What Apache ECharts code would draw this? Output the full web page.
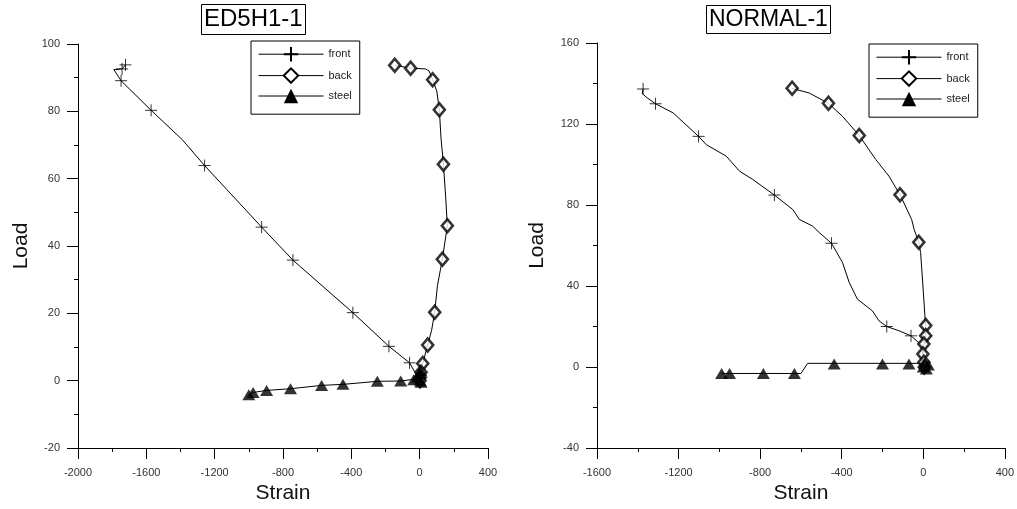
<!DOCTYPE html>
<html>
<head>
<meta charset="utf-8">
<script src="https://cdn.jsdelivr.net/npm/echarts@6/dist/echarts.min.js"></script>
<style>
html,body{margin:0;padding:0;background:#fff;}
#chart{width:1017px;height:509px;}
</style>
</head>
<body>
<div id="chart"></div>
<script>
// ---- Data (Strain, Load) ----
const titles = ['ED5H1-1', 'NORMAL-1'];
const seriesNames = ['front', 'back', 'steel'];

// Left panel: ED5H1-1
const leftFrontLine = [[0,0],[-59,5.3],[-180,10.2],[-391,20.2],[-742,35.8],[-925,45.6],[-1259,63.9],[-1390,71.6],[-1572,80.3],[-1748,89.1],[-1790,92.4],[-1742,92.6],[-1722,93.8]];
const leftFrontMarks = [[-59,5.3],[-180,10.2],[-391,20.2],[-742,35.8],[-925,45.6],[-1259,63.9],[-1572,80.3],[-1748,89.1],[-1742,92.6],[-1722,93.8]];
const leftBackLine = [[0,0],[3,1.5],[8,3],[18,5.1],[47,10.6],[70,15],[88,20.3],[104,28.2],[133,36.1],[162,46],[152,54.8],[139,64.3],[125,72],[115,80.5],[100,86],[76,89.4],[55,92],[35,92.6],[-53,92.8],[-146,93.7]];
const leftBackMarks = [[-146,93.7],[-53,92.8],[76,89.4],[115,80.5],[139,64.3],[162,46],[133,36.1],[88,20.3],[47,10.6],[18,5.1],[8,2.5],[4,1],[2,0]];
const leftSteelLine = [[-1000,-4.2],[-975,-3.5],[-896,-2.9],[-756,-2.4],[-574,-1.4],[-449,-1.1],[-248,-0.2],[-111,-0.1],[-35,0.4],[0,0.8],[5,1.8],[8,3]];
const leftSteelMarks = [[-1000,-4.2],[-975,-3.5],[-896,-2.9],[-756,-2.4],[-574,-1.4],[-449,-1.1],[-248,-0.2],[-111,-0.1],[-35,0.3],[-12,1],[2,2],[6,3],[4,0],[8,-0.5]];

// Right panel: NORMAL-1
const rightFrontLine = [[0,2],[-5,10.5],[-60,15.4],[-119,17.9],[-179,20],[-217,22.8],[-249,27.7],[-323,33.5],[-363,41.7],[-396,51.6],[-450,61.1],[-510,66.4],[-543,69.6],[-608,72.9],[-640,77.8],[-730,84.9],[-836,92.6],[-901,96.7],[-966,104.1],[-1064,109.8],[-1102,113.9],[-1227,125.5],[-1313,130],[-1355,133],[-1378,135],[-1374,137.3]];
const rightFrontMarks = [[-1374,137.3],[-1313,130],[-1102,113.9],[-730,84.9],[-450,61.1],[-179,20],[-60,15.4]];
const rightBackLine = [[5,0],[3,2.3],[-2,6.4],[3,11.3],[12,15.4],[12,20.5],[8,25.3],[-1.5,40],[-13,56.5],[-22,61.6],[-45,68],[-57,72.9],[-114,85.1],[-168,94.2],[-233,102.5],[-314,114.3],[-396,123.8],[-465,130.2],[-559,135.3],[-643,137.6]];
const rightBackMarks = [[-643,137.6],[-465,130.2],[-314,114.3],[-114,85.1],[-22,61.6],[12,20.5],[12,15.4],[3,11.3],[-2,6.4],[3,2.3],[5,0]];
const rightSteelLine = [[-989,-3.2],[-950,-3.2],[-784,-3.2],[-632,-3.2],[-600,-3.2],[-567,1.8],[-437,1.8],[-200,1.8],[-70,1.8],[0,1.8],[10,0],[20,1]];
const rightSteelMarks = [[-989,-3.2],[-950,-3.2],[-784,-3.2],[-632,-3.2],[-437,1.5],[-200,1.5],[-70,1.5],[0,0],[8,2],[25,1],[15,-1]];

// Axis ranges
const leftX = {min:-2000, max:400, interval:400};
const leftY = {min:-20, max:100, interval:20};
const rightX = {min:-1600, max:400, interval:400};
const rightY = {min:-40, max:160, interval:40};

const FONT = "'Liberation Sans', Arial, Helvetica, sans-serif";
const crossPath = 'path://M5,0L5,10M0,5L10,5';

const styles = {
  front: {symbol: crossPath, symbolSize: 12, itemStyle: {color:'#000', borderColor:'#000', borderWidth:1}},
  back: {symbol: 'diamond', symbolSize: [11,13], itemStyle: {color:'#fff', borderColor:'#000', borderWidth:2.6}},
  steel: {symbol: 'triangle', symbolSize: [13,11], itemStyle: {color:'#000', borderColor:'#000', borderWidth:0}}
};

function xAxisCfg(r, gi, nameGap) {
  return {
    type:'value', gridIndex:gi, min:r.min, max:r.max, interval:r.interval,
    name:'Strain', nameLocation:'middle', nameGap:nameGap,
    nameTextStyle:{fontFamily:FONT, fontSize:21, color:'#111'},
    axisLine:{show:true, onZero:false, lineStyle:{color:'#000', width:1}},
    axisTick:{show:true, length:11, lineStyle:{color:'#000'}},
    minorTick:{show:true, splitNumber:2, length:4, lineStyle:{color:'#000'}},
    axisLabel:{fontFamily:FONT, fontSize:11, color:'#333', margin:19, formatter:(v)=>String(v)},
    splitLine:{show:false}
  };
}
function yAxisCfg(r, gi, nameGap) {
  return {
    type:'value', gridIndex:gi, min:r.min, max:r.max, interval:r.interval,
    name:'Load', nameLocation:'middle', nameGap:nameGap, nameRotate:90,
    nameTextStyle:{fontFamily:FONT, fontSize:21, color:'#111'},
    axisLine:{show:true, onZero:false, lineStyle:{color:'#000', width:1}},
    axisTick:{show:true, length:11, lineStyle:{color:'#000'}},
    minorTick:{show:true, splitNumber:2, length:4, lineStyle:{color:'#000'}},
    axisLabel:{fontFamily:FONT, fontSize:11, color:'#333', margin:18, formatter:(v)=>String(v)},
    splitLine:{show:false}
  };
}

function makeSeries(name, lineData, markData, gi) {
  const s = styles[name];
  return [
    {
      name:name, type:'line', xAxisIndex:gi, yAxisIndex:gi,
      data:lineData, showSymbol:false, symbol:s.symbol, symbolSize:s.symbolSize,
      itemStyle:s.itemStyle, lineStyle:{color:'#000', width:1},
      silent:true, animation:false, z:2
    },
    {
      name:name, type:'scatter', xAxisIndex:gi, yAxisIndex:gi,
      data:markData, symbol:s.symbol, symbolSize:s.symbolSize,
      itemStyle:s.itemStyle, silent:true, animation:false, z:3
    }
  ];
}

const legendCommon = {
  orient:'vertical', data:seriesNames, itemWidth:65, itemHeight:18, itemGap:5,
  borderColor:'#000', borderWidth:1, padding:[5,8,11,7],
  lineStyle:{width:1, color:'#000'},
  textStyle:{fontFamily:FONT, fontSize:11, color:'#222'},
  selectedMode:false
};

const option = {
  backgroundColor:'#fff',
  animation:false,
  title:[
    {text:titles[0], left:201, top:5, padding:[3,3,3,3], borderColor:'#000', borderWidth:1,
     textStyle:{fontFamily:FONT, fontSize:24, fontWeight:'normal', color:'#000', lineHeight:23}},
    {text:titles[1], left:706, top:5, padding:[3,3,3,3], borderColor:'#000', borderWidth:1,
     textStyle:{fontFamily:FONT, fontSize:23, fontWeight:'normal', color:'#000', lineHeight:23}}
  ],
  legend:[
    Object.assign({left:251, top:41}, legendCommon),
    Object.assign({left:869, top:44}, legendCommon)
  ],
  grid:[
    {left:78, top:44, width:410, height:405},
    {left:597, top:43, width:409, height:406}
  ],
  xAxis:[xAxisCfg(leftX, 0, 35), xAxisCfg(rightX, 1, 35)],
  yAxis:[yAxisCfg(leftY, 0, 46), yAxisCfg(rightY, 1, 49)],
  series:[].concat(
    makeSeries('front', leftFrontLine, leftFrontMarks, 0),
    makeSeries('back', leftBackLine, leftBackMarks, 0),
    makeSeries('steel', leftSteelLine, leftSteelMarks, 0),
    makeSeries('front', rightFrontLine, rightFrontMarks, 1),
    makeSeries('back', rightBackLine, rightBackMarks, 1),
    makeSeries('steel', rightSteelLine, rightSteelMarks, 1)
  )
};

const chart = echarts.init(document.getElementById('chart'), null, {renderer:'canvas'});
chart.setOption(option);
</script>
</body>
</html>
